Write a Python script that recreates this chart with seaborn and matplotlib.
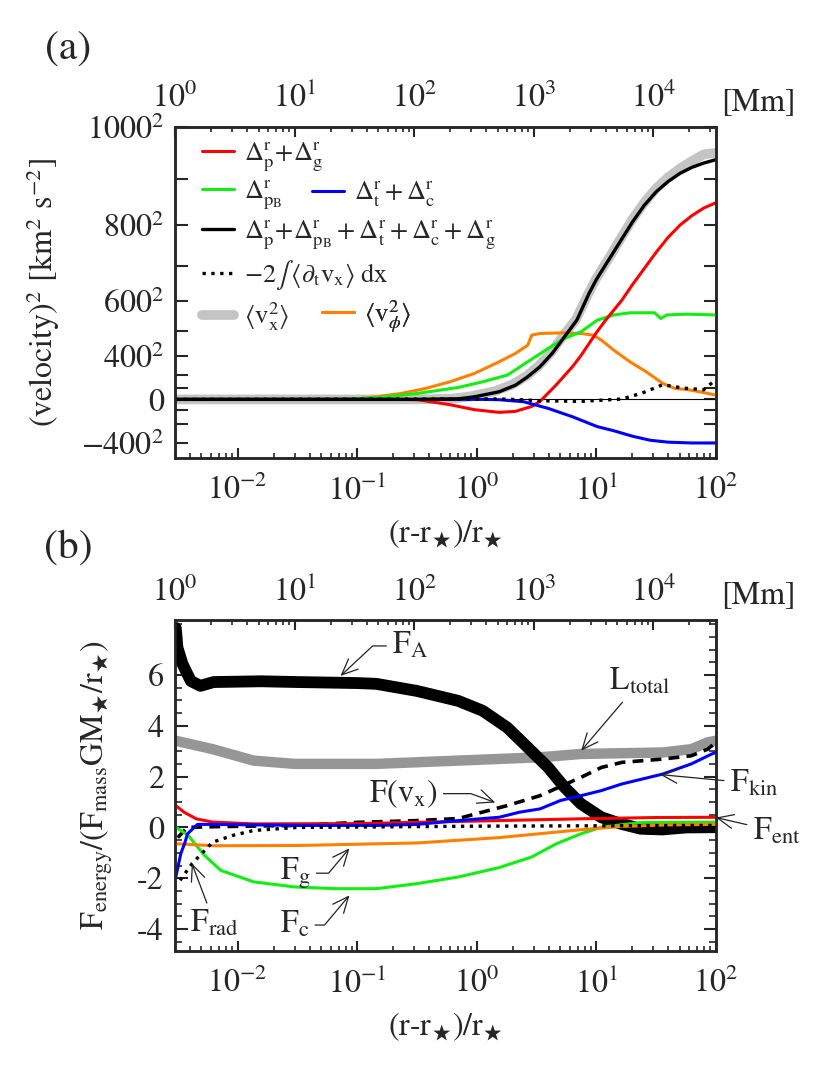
import numpy as np
import matplotlib
matplotlib.use('Agg')
import matplotlib.pyplot as plt
import seaborn as sns
from matplotlib.ticker import FixedLocator, LogLocator, NullFormatter, MultipleLocator

# ---------------- panel (a) ----------------
# x values are log10((r-r*)/r*), y values in 10^3 km^2 s^-2
lx_gray = [-2.52, -0.5, -0.2, -0.05, 0.15, 0.3, 0.42, 0.52, 0.62, 0.72, 0.83, 0.93,
           1.0, 1.1, 1.2, 1.3, 1.4, 1.5, 1.6, 1.7, 1.8, 1.9, 2.0]
v_gray = [0, 0, 3, 11, 30, 55, 87, 124, 172, 232, 294, 385,
          445, 515, 588, 660, 722, 775, 815, 848, 875, 900, 905]

lx_black = [-2.52, -0.5, -0.155, -0.019, 0.187, 0.323, 0.426, 0.529, 0.631, 0.734, 0.837, 0.94,
            1.0, 1.1, 1.2, 1.3, 1.4, 1.5, 1.6, 1.7, 1.8, 1.9, 2.0]
v_black = [0, 0, 2, 9.5, 28, 52, 83, 120, 169, 230, 291, 390,
           440, 510, 580, 650, 712, 762, 800, 830, 852, 868, 880]

lx_red = [-2.52, -0.635, -0.5, -0.224, -0.019, 0.187, 0.323, 0.46, 0.529, 0.666, 0.802, 0.87,
          0.939, 1.0, 1.076, 1.213, 1.3, 1.4, 1.5, 1.6, 1.7, 1.8, 1.9, 2.0]
v_red = [0, 0, -1, -19.5, -37.8, -47.6, -44, -25.7, -7.3, 54, 121, 160,
         205, 245, 290, 364, 420, 480, 540, 595, 640, 675, 703, 722]

lx_green = [-2.52, -1.2, -0.84, -0.498, -0.155, 0.05, 0.255, 0.426, 0.597, 0.734, 0.871, 1.008,
            1.145, 1.281, 1.487, 1.538, 1.589, 1.76, 2.0]
v_green = [0, 0, 6, 21.7, 43.7, 64.7, 89, 138, 187, 224, 248, 291,
           310, 318, 318, 297, 310, 313, 310]

lx_blue = [-2.52, 0.05, 0.187, 0.392, 0.597, 0.802, 1.008, 1.145, 1.3, 1.45, 1.6, 1.8, 2.0]
v_blue = [0, 0, -1.2, -8.6, -33, -64, -100, -115, -135, -150, -157, -160, -160]

lx_orange = [-2.52, -1.2, -1.011, -0.84, -0.635, -0.429, -0.224, -0.019, 0.187, 0.323, 0.426, 0.46,
             0.529, 0.734, 0.871, 0.973, 1.042, 1.145, 1.281, 1.418, 1.555, 1.658, 1.76, 1.863, 2.0]
v_orange = [0, 0, 1, 9.5, 21.7, 40, 64.7, 95.3, 138, 168.6, 199, 236,
            242, 244.5, 242, 236, 217.6, 181, 138, 101, 58.6, 40, 36, 28, 15.6]

lx_dot = [-2.52, 0.187, 0.358, 0.529, 0.871, 1.213, 1.384, 1.555, 1.726, 1.897, 1.965, 2.0]
v_dot = [0, 1.6, -1.1, -4.8, -7.3, 1.3, 23.3, 54, 41.6, 35.5, 60, 72]

vel_ticks = [-160, 0, 160, 360, 640, 1000]
vel_labels = [r'$-400^2$', '0', r'$400^2$', r'$600^2$', r'$800^2$', r'$1000^2$']
vel_minor = [-90, -40, 40, 90, 250, 490, 810]

# ---------------- panel (b) ----------------
lx_FA = [-2.516, -2.502, -2.46, -2.39, -2.31, -2.2, -1.8, -1.5, -1.0, -0.84, -0.5, -0.155,
         0.05, 0.255, 0.426, 0.597, 0.734, 0.871, 1.042, 1.2, 1.37, 1.55, 1.75, 2.0]
F_A = [7.85, 7.07, 6.43, 5.76, 5.57, 5.72, 5.75, 5.72, 5.68, 5.65, 5.37, 4.98,
       4.59, 3.93, 3.15, 2.36, 1.58, 0.93, 0.40, 0.15, -0.05, -0.08, 0.0, 0.01]

lx_Lt = [-2.516, -2.208, -1.866, -1.524, -0.84, -0.155, 0.529, 0.871, 1.213, 1.555, 1.794, 1.931, 2.0]
L_total = [3.41, 3.08, 2.63, 2.5, 2.5, 2.63, 2.76, 2.89, 2.92, 2.95, 3.08, 3.35, 3.41]

lx_Fv = [-2.5, -2.42, -2.2, -1.5, -1.0, -0.5, -0.155, 0.255, 0.529, 0.871, 1.042, 1.213,
         1.555, 1.794, 1.931, 2.0]
F_vx = [-0.4, 0.0, 0.03, 0.08, 0.2, 0.27, 0.35, 0.86, 1.25, 1.97, 2.36, 2.56,
        2.69, 2.82, 3.08, 3.35]

lx_Fk = [-2.516, -2.474, -2.44, -2.418, -2.335, -2.2, -1.5, -0.84, -0.5, -0.155, 0.187, 0.358,
         0.529, 0.70, 0.871, 1.042, 1.213, 1.555, 1.794, 1.965, 2.0]
F_kin = [-1.95, -1.03, -0.6, -0.25, 0.12, 0.12, 0.08, 0.08, 0.12, 0.27, 0.4, 0.6,
         0.73, 1.06, 1.25, 1.45, 1.71, 2.1, 2.5, 2.89, 2.95]

lx_Fe = [-2.516, -2.447, -2.345, -2.208, -1.866, -1.0, 0.187, 0.871, 1.5, 2.0]
F_ent = [0.86, 0.6, 0.34, 0.21, 0.14, 0.15, 0.27, 0.34, 0.39, 0.4]

lx_Fg = [-2.516, -2.2, -1.5, -0.498, 0.187, 0.871, 1.213, 1.6, 2.0]
F_g = [-0.64, -0.72, -0.71, -0.61, -0.4, -0.09, 0.04, 0.1, 0.12]

lx_Fc = [-2.516, -2.413, -2.276, -2.14, -1.866, -1.524, -1.182, -0.84, -0.498, -0.155, 0.187, 0.46,
         0.666, 0.871, 1.042, 1.384, 2.0]
F_c = [0.01, -0.31, -1.1, -1.69, -2.14, -2.34, -2.41, -2.41, -2.21, -1.95, -1.58, -1.16,
       -0.64, -0.25, 0.01, 0.2, 0.21]

lx_Fr = [-2.48, -2.379, -2.208, -2.037, -1.866, -1.5, 0.0, 2.0]
F_rad = [-2.08, -1.42, -0.58, -0.31, -0.12, 0.0, 0.05, 0.08]

XMIN, XMAX = 3.0e-3, 100.0
MM_SCALE = 1.0 / XMIN   # top axis in Mm, 10^0 on the left edge

RED, GREEN, BLUE, ORANGE = '#ff0000', '#11ee11', '#0000ff', '#ff8000'

sns.set_theme(style='ticks')
plt.rcParams['font.family'] = ['STIXGeneral', 'DejaVu Serif']
plt.rcParams['mathtext.fontset'] = 'stix'
plt.rcParams['axes.unicode_minus'] = False
plt.rcParams['axes.linewidth'] = 1.8

fig = plt.figure(figsize=(8.3, 10.69), dpi=100)
ax_a = fig.add_axes([0.2108, 0.5716, 0.6518, 0.3096])
ax_b = fig.add_axes([0.2108, 0.1104, 0.6518, 0.3096])
for ax in (ax_a, ax_b):
    ax.set_xscale('log')


def draw(ax, lx, vals, **kw):
    sns.lineplot(x=10 ** np.asarray(lx), y=vals, ax=ax, legend=False,
                 errorbar=None, **kw)
    return ax.lines[-1]


def style_x(ax):
    ax.set_xlim(XMIN, XMAX)
    ax.xaxis.set_major_locator(LogLocator(10, numticks=20))
    ax.xaxis.set_minor_locator(LogLocator(10, subs=np.arange(2, 10), numticks=20))
    ax.xaxis.set_minor_formatter(NullFormatter())
    ax.tick_params(axis='x', which='major', direction='in', length=7, width=1.5,
                   labelsize=23, pad=12, top=False)
    ax.tick_params(axis='x', which='minor', direction='in', length=3.5, width=1.2, top=False)
    ax.set_xlabel(r'(r-r$_\bigstar$)/r$_\bigstar$', fontsize=23)
    ax.xaxis.set_label_coords(0.5, -0.18)
    top = ax.twiny()
    top.set_xscale('log')
    top.set_xlim(XMIN * MM_SCALE, XMAX * MM_SCALE)
    top.xaxis.set_major_locator(LogLocator(10, numticks=20))
    top.xaxis.set_minor_locator(LogLocator(10, subs=np.arange(2, 10), numticks=20))
    top.xaxis.set_minor_formatter(NullFormatter())
    top.tick_params(axis='x', which='major', direction='in', length=7, width=1.5,
                    labelsize=23, pad=9)
    top.tick_params(axis='x', which='minor', direction='in', length=3.5, width=1.2)
    top.text(1.01, 1.075, '[Mm]', transform=top.transAxes, ha='left', va='center', fontsize=23)
    return top


# ---- panel (a)
ax_a.axhline(0, color='black', lw=0.8, zorder=1)
h_gray = draw(ax_a, lx_gray, v_gray, color='#c4c4c4', linewidth=7, zorder=2)
h_orange = draw(ax_a, lx_orange, v_orange, color=ORANGE, linewidth=2.2, zorder=3)
h_green = draw(ax_a, lx_green, v_green, color=GREEN, linewidth=2.2, zorder=3)
h_red = draw(ax_a, lx_red, v_red, color=RED, linewidth=2.2, zorder=3)
h_blue = draw(ax_a, lx_blue, v_blue, color=BLUE, linewidth=2.2, zorder=3)
h_black = draw(ax_a, lx_black, v_black, color='black', linewidth=2.4, zorder=4)
h_dot = draw(ax_a, lx_dot, v_dot, color='black', linewidth=2.4, linestyle=':', zorder=4)

ax_a.set_ylim(-215, 1000)
ax_a.yaxis.set_major_locator(FixedLocator(vel_ticks))
ax_a.set_yticklabels(vel_labels)
ax_a.yaxis.set_minor_locator(FixedLocator(vel_minor))
ax_a.tick_params(axis='y', which='both', direction='in', length=9, width=1.5,
                 labelsize=23, pad=8, right=True)
ax_a.set_ylabel(r'(velocity)$^2$ [km$^2$ s$^{-2}$]', fontsize=23)
ax_a.yaxis.set_label_coords(-0.209, 0.5)
style_x(ax_a)


def row_legend(ax, handle, label, x, y):
    leg = ax.legend([handle], [label], loc='center left', bbox_to_anchor=(x, y),
                    bbox_transform=ax.transAxes, frameon=False, fontsize=19,
                    handlelength=1.2, handletextpad=0.4, borderpad=0, borderaxespad=0)
    ax.add_artist(leg)


row_legend(ax_a, h_red, r'$\Delta^{\rm r}_{\rm p}\!+\!\Delta^{\rm r}_{\rm g}$', 0.05, 0.910)
row_legend(ax_a, h_green, r'$\Delta^{\rm r}_{\rm p_B}$', 0.05, 0.795)
row_legend(ax_a, h_blue, r'$\Delta^{\rm r}_{\rm t}+\Delta^{\rm r}_{\rm c}$', 0.253, 0.795)
row_legend(ax_a, h_black, r'$\Delta^{\rm r}_{\rm p}\!+\!\Delta^{\rm r}_{\rm p_B}+\Delta^{\rm r}_{\rm t}'
           r'+\Delta^{\rm r}_{\rm c}+\Delta^{\rm r}_{\rm g}$', 0.05, 0.674)
row_legend(ax_a, h_dot, r'$-2\int\,\langle\partial_{\rm t}{\rm v}_{\rm x}\rangle\;{\rm dx}$', 0.05, 0.553)
row_legend(ax_a, h_gray, r'$\langle{\rm v}^2_{\rm x}\rangle$', 0.05, 0.427)
row_legend(ax_a, h_orange, r'$\langle{\rm v}^2_{\phi}\rangle$', 0.272, 0.427)

# ---- panel (b)
draw(ax_b, lx_Lt, L_total, color='#969696', linewidth=7.5, zorder=2)
draw(ax_b, lx_FA, F_A, color='black', linewidth=8.5, zorder=3)
draw(ax_b, lx_Fv, F_vx, color='black', linewidth=2.6, linestyle=(0, (3, 2)), zorder=4)
draw(ax_b, lx_Fc, F_c, color=GREEN, linewidth=2.2, zorder=4)
draw(ax_b, lx_Fg, F_g, color=ORANGE, linewidth=2.2, zorder=4)
draw(ax_b, lx_Fe, F_ent, color=RED, linewidth=2.2, zorder=4)
draw(ax_b, lx_Fk, F_kin, color=BLUE, linewidth=2.2, zorder=5)
draw(ax_b, lx_Fr, F_rad, color='black', linewidth=2.4, linestyle=':', zorder=5)

ax_b.set_ylim(-4.86, 8.16)
ax_b.yaxis.set_major_locator(FixedLocator([-4, -2, 0, 2, 4, 6]))
ax_b.yaxis.set_minor_locator(MultipleLocator(0.5))
ax_b.tick_params(axis='y', which='major', direction='in', length=9, width=1.5,
                 labelsize=23, pad=8, right=True)
ax_b.tick_params(axis='y', which='minor', direction='in', length=5, width=1.2, right=True)
ax_b.set_ylabel(r'F$_{\rm energy}$/(F$_{\rm mass}$GM$_\bigstar$/r$_\bigstar$)', fontsize=23)
ax_b.yaxis.set_label_coords(-0.111, 0.5)
style_x(ax_b)


def tag(ax, text, tip, txt, ha='left', conn='arc3'):
    ax.annotate(text, xy=(10 ** tip[0], tip[1]), xytext=(10 ** txt[0], txt[1]),
                ha=ha, va='center', fontsize=23, annotation_clip=False, zorder=6,
                arrowprops=dict(arrowstyle='->,head_length=0.5,head_width=0.22',
                                lw=0.9, color='#222222', shrinkA=2, shrinkB=0,
                                connectionstyle=conn))


tag(ax_b, r'F$_{\rm A}$', (-1.139, 5.96), (-0.705, 7.14), conn='angle,angleA=0,angleB=43')
tag(ax_b, r'L$_{\rm total}$', (0.873, 3.02), (1.107, 5.73))
tag(ax_b, r'F(v$_{\rm x}$)', (0.155, 0.98), (-0.329, 1.33), ha='right',
    conn='angle,angleA=0,angleB=-20')
tag(ax_b, r'F$_{\rm kin}$', (1.532, 2.08), (2.117, 1.73))
tag(ax_b, r'F$_{\rm ent}$', (2.0, 0.39), (2.308, -0.16))
tag(ax_b, r'F$_{\rm g}$', (-1.064, -0.82), (-1.648, -1.8), conn='angle,angleA=0,angleB=50')
tag(ax_b, r'F$_{\rm c}$', (-1.064, -2.67), (-1.648, -3.84), conn='angle,angleA=0,angleB=50')
tag(ax_b, r'F$_{\rm rad}$', (-2.382, -1.41), (-2.19, -3.8), ha='center')

fig.text(0.082, 0.953, '(a)', fontsize=30, ha='center', va='center')
fig.text(0.082, 0.487, '(b)', fontsize=30, ha='center', va='center')

fig.savefig('out.png', dpi=100)
